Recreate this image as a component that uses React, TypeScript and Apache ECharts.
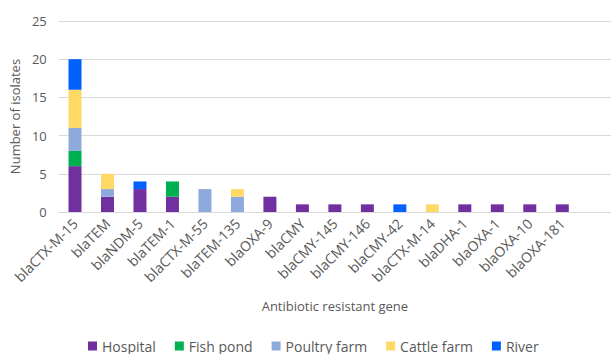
import React, { useEffect, useRef } from "react";
import * as echarts from "echarts";

const categories = [
  "blaCTX-M-15", "blaTEM", "blaNDM-5", "blaTEM-1", "blaCTX-M-55", "blaTEM-135",
  "blaOXA-9", "blaCMY", "blaCMY-145", "blaCMY-146", "blaCMY-42", "blaCTX-M-14",
  "blaDHA-1", "blaOXA-1", "blaOXA-10", "blaOXA-181", "",
];
const hospital = [6, 2, 3, 2, 0, 0, 2, 1, 1, 1, 0, 0, 1, 1, 1, 1, 0];
const fishPond = [2, 0, 0, 2, 0, 0, 0, 0, 0, 0, 0, 0, 0, 0, 0, 0, 0];
const poultryFarm = [3, 1, 0, 0, 3, 2, 0, 0, 0, 0, 0, 0, 0, 0, 0, 0, 0];
const cattleFarm = [5, 2, 0, 0, 0, 1, 0, 0, 0, 0, 0, 1, 0, 0, 0, 0, 0];
const river = [4, 0, 1, 0, 0, 0, 0, 0, 0, 0, 1, 0, 0, 0, 0, 0, 0];

const seriesDefs = [
  { name: "Hospital", data: hospital, color: "#7030A0" },
  { name: "Fish pond", data: fishPond, color: "#00B050" },
  { name: "Poultry farm", data: poultryFarm, color: "#8EA9DB" },
  { name: "Cattle farm", data: cattleFarm, color: "#FFD966" },
  { name: "River", data: river, color: "#0061FF" },
];

const FONT = "'Open Sans', 'DejaVu Sans', sans-serif";

export default function App() {
  const ref = useRef<HTMLDivElement>(null);
  useEffect(() => {
    if (!ref.current) return;
    const chart = echarts.init(ref.current, null, { renderer: "svg" });
    chart.setOption({
      animation: false,
      backgroundColor: "#ffffff",
      textStyle: { fontFamily: FONT },
      grid: { left: 54, top: 21, width: 561, height: 191, containLabel: false },
      legend: {
        top: 339,
        left: 83,
        padding: [0, 5],
        icon: "rect",
        itemWidth: 9,
        itemHeight: 9,
        itemGap: 19,
        textStyle: { fontFamily: FONT, fontSize: 14, color: "#595959" },
        data: seriesDefs.map((s) => s.name),
      },
      xAxis: {
        type: "category",
        data: categories,
        name: "Antibiotic resistant gene",
        nameLocation: "middle",
        nameGap: 87,
        nameTextStyle: { fontFamily: FONT, fontSize: 13, color: "#595959" },
        axisLine: { lineStyle: { color: "#D9D9D9" } },
        axisTick: { show: false },
        axisLabel: {
          rotate: 45,
          interval: 0,
          margin: 9,
          fontFamily: FONT,
          fontSize: 14,
          color: "#595959",
        },
      },
      yAxis: {
        type: "value",
        min: 0,
        max: 25,
        interval: 5,
        name: "Number of isolates",
        nameLocation: "middle",
        nameGap: 29,
        nameTextStyle: { fontFamily: FONT, fontSize: 13, color: "#595959" },
        axisLine: { show: false },
        axisTick: { show: false },
        splitLine: { lineStyle: { color: "#D9D9D9", width: 1 } },
        axisLabel: { fontFamily: FONT, fontSize: 13, color: "#595959", margin: 12 },
      },
      series: seriesDefs.map((s) => ({
        name: s.name,
        type: "bar",
        stack: "total",
        barWidth: 13,
        data: s.data.map((v) => (v === 0 ? null : v)),
        itemStyle: { color: s.color },
      })),
    });
    return () => chart.dispose();
  }, []);
  return (
    <div
      ref={ref}
      style={{ position: "fixed", left: 0, top: 0, width: 611, height: 354 }}
    />
  );
}
